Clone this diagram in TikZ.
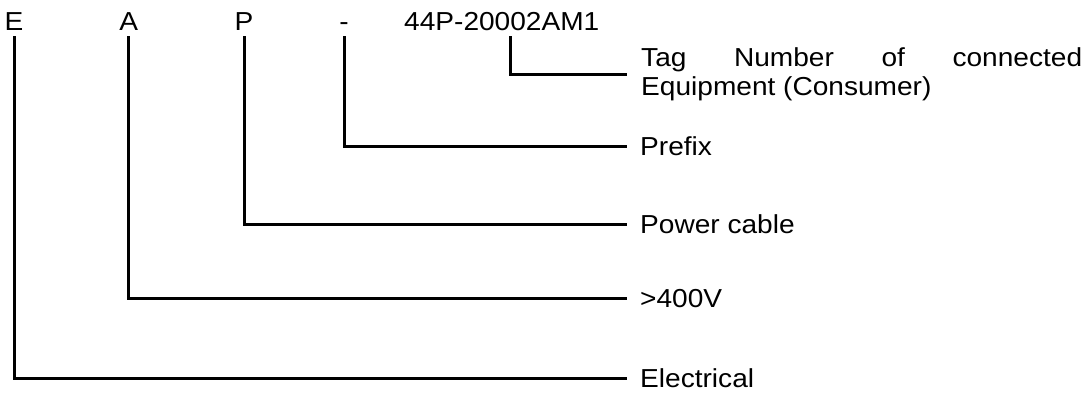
\documentclass[tikz,border=0pt]{standalone}
\usepackage{fontspec}
\setmainfont{Liberation Sans}[FakeStretch=1.08]
\begin{document}
\begin{tikzpicture}[x=1pt,y=-1pt,
  code/.style={inner sep=0pt,anchor=base},
  lbl/.style={inner xsep=15pt,inner ysep=0pt,anchor=west,text height=18pt,text depth=0pt},
  tagl/.style={inner sep=0pt,anchor=base west},
  conn/.style={line width=3pt,line cap=rect}]
\useasboundingbox (0,0) rectangle (1089,392);
\fontsize{26}{30}\selectfont
% top code
\node[code] (e) at (14,30) {E};
\node[code] (a) at (128.7,30) {A};
\node[code] (p) at (244,30) {P};
\node[code] (dash) at (344,30) {-};
\node[tagl] (tag) at (404,30) {44P-20002AM1};
\coordinate (tagtop) at (510,37);
% labels
\node[tagl] (ltag1) at (641,66) {\makebox[441pt][s]{Tag Number of connected}};
\node[tagl] (ltag2) at (641,95) {Equipment (Consumer)};
\coordinate (tagend) at (625,74);
\node[lbl] (lprefix) at (625,146) {Prefix};
\node[lbl] (lpower) at (625,224) {Power cable};
\node[lbl] (lvolt) at (625,298.3) {>400V};
\node[lbl] (lelec) at (625,378.3) {Electrical};
% connectors
\draw[conn] (tagtop) |- (tagend);
\draw[conn] ([yshift=-7pt]dash.base) |- (lprefix.west);
\draw[conn] ([yshift=-7pt]p.base) |- (lpower.west);
\draw[conn] ([yshift=-7pt]a.base) |- (lvolt.west);
\draw[conn] ([yshift=-7pt]e.base) |- (lelec.west);
\end{tikzpicture}
\end{document}
